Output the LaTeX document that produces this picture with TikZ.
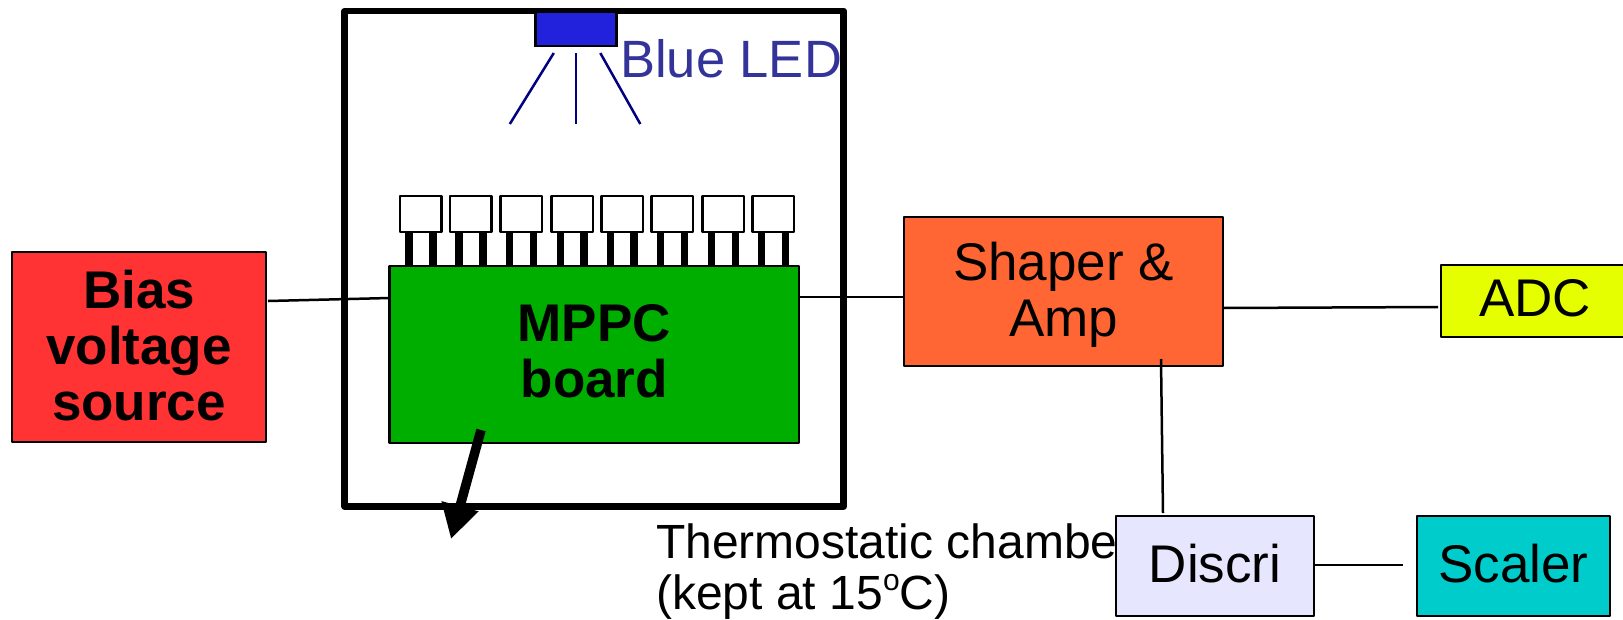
\documentclass[tikz,border=0pt]{standalone}
\usepackage{fontspec}
\setmainfont{Liberation Sans}
\usetikzlibrary{arrows.meta}
\definecolor{biasred}{HTML}{FF3333}
\definecolor{boardgreen}{HTML}{00AE00}
\definecolor{shaperorange}{HTML}{FF6633}
\definecolor{adcyellow}{HTML}{E6FF00}
\definecolor{discrilav}{HTML}{E6E6FF}
\definecolor{scalercyan}{HTML}{00CCCC}
\definecolor{ledblue}{HTML}{2222DD}
\definecolor{ledtext}{HTML}{333399}
\definecolor{raynavy}{HTML}{000080}
\tikzset{
  blockbox/.style={draw=black,line width=2.5pt,inner sep=0pt,outer sep=0pt,line join=round},
  blocktext/.style={inner sep=0pt,align=center,font=\fontsize{53}{56}\selectfont},
  boldtext/.style={blocktext,font=\fontsize{53}{56}\selectfont\bfseries},
  pixelbox/.style={draw=black,line width=2.5pt,fill=white,inner sep=0pt,outer sep=0pt,minimum width=41.5pt,minimum height=36pt,line join=round},
  pinleg/.style={line width=7.5pt,black},
  wire/.style={line width=2.5pt,black},
  ray/.style={line width=2.5pt,raynavy},
}
\newcommand{\mppc}[2]{%
  \node[pixelbox] (#2) at (#1+20.75,214) {};
  \draw[pinleg] (#1+9,233) -- (#1+9,268);
  \draw[pinleg] (#1+32.8,233) -- (#1+32.8,268);
}
\begin{document}
\begin{tikzpicture}[x=1pt,y=-1pt]
\useasboundingbox (0,0) rectangle (1623,619);
\clip (0,0) rectangle (1623,619);
% chamber
\node[draw=black,line width=6.5pt,line join=round,inner sep=0pt,outer sep=0pt,minimum width=499pt,minimum height=495.5pt] (chamber) at (594.2,258.75) {};
% MPPCs
\mppc{400.2}{p1}\mppc{450.2}{p2}\mppc{500.5}{p3}\mppc{551.4}{p4}\mppc{601.4}{p5}\mppc{651.6}{p6}\mppc{702.6}{p7}\mppc{752.5}{p8}
% blocks
\node[blockbox,fill=boardgreen,minimum width=409.4pt,minimum height=177pt,label={[boldtext,yshift=3pt]center:{MPPC\\board}}] (board) at (594.3,354.5) {};
\node[blockbox,fill=biasred,minimum width=254pt,minimum height=190pt,label={[boldtext,yshift=1.5pt]center:{Bias\\voltage\\source}}] (bias) at (139,347) {};
\node[blockbox,fill=shaperorange,minimum width=319pt,minimum height=149pt,label={[blocktext,yshift=-3.5pt]center:{Shaper \&\\Amp}}] (shaper) at (1063.5,291.5) {};
\node[blockbox,fill=adcyellow,minimum width=200pt,minimum height=72pt,anchor=west] (adc) at (1441,301) {};
\node[blocktext] (adctext) at (1535,298.5) {ADC};
\node[blockbox,fill=discrilav,minimum width=198pt,minimum height=100pt,label={[blocktext,yshift=2pt]center:Discri}] (discri) at (1215,566) {};
\node[blockbox,fill=scalercyan,minimum width=193pt,minimum height=100pt,label={[blocktext,yshift=2pt]center:Scaler}] (scaler) at (1513.5,566) {};
% LED
\node[draw=black,line width=2.5pt,fill=ledblue,inner sep=0pt,outer sep=0pt,minimum width=81pt,minimum height=34pt] (led) at (576.2,29) {};
\node[text=ledtext,font=\fontsize{52.5}{52.5}\selectfont,anchor=base west,inner sep=0pt] (ledlabel) at (620,77) {Blue LED};
\coordinate (r1) at (509.8,124);\coordinate (r2) at (575.9,124);\coordinate (r3) at (640.3,124);
\draw[ray] ([xshift=-22.4pt,yshift=-7pt]led.south) -- (r1);
\draw[ray] ([xshift=-0.3pt,yshift=-7pt]led.south) -- (r2);
\draw[ray] ([xshift=24.1pt,yshift=-7pt]led.south) -- (r3);
% wires
\draw[wire] ([xshift=2pt,yshift=46pt]bias.east) -- ([yshift=56.5pt]board.west);
\draw[wire] ([yshift=57.5pt]board.east) -- ([yshift=-5.5pt]shaper.west);
\draw[wire] ([yshift=-16.5pt]shaper.east) -- ([xshift=-3pt,yshift=-6pt]adc.west);
\draw[wire] ([xshift=97.5pt,yshift=7pt]shaper.south) -- ([xshift=-52pt,yshift=3pt]discri.north);
\draw[wire] ([yshift=1pt]discri.east) -- ([xshift=-14pt,yshift=1pt]scaler.west);
% arrow
\coordinate (arrowtip) at (451,539);
\draw[line width=9.5pt,-{Triangle[length=34pt,width=36pt]}] ([xshift=-113.3pt,yshift=-75.5pt]board.center) -- (arrowtip);
% caption
\node[font=\fontsize{48}{51}\selectfont,anchor=base west,align=left,inner sep=0pt] (caption) at (656,609) {Thermostatic chambe\\(kept at 15\raisebox{0.38em}{\fontsize{30}{30}\selectfont o}C)};
\end{tikzpicture}
\end{document}
